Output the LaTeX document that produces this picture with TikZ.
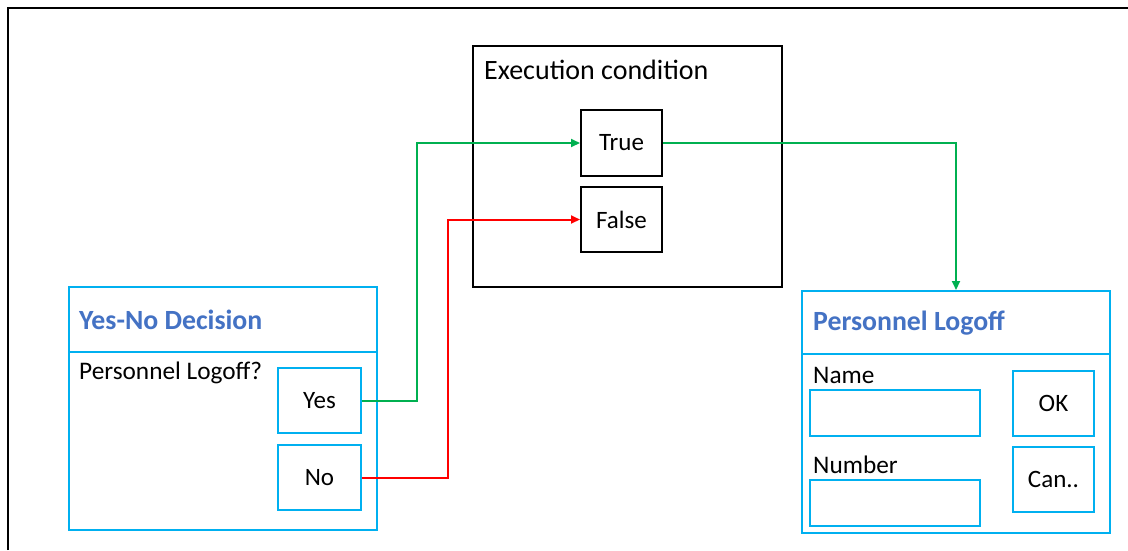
\documentclass[tikz,border=0pt]{standalone}
\usepackage{fontspec}
\setmainfont{Carlito}
\usetikzlibrary{arrows.meta}
\definecolor{panelcyan}{HTML}{00B0F0}
\definecolor{titleblue}{HTML}{4472C4}
\definecolor{okgreen}{HTML}{00B050}
\definecolor{nored}{HTML}{FF0000}
\tikzset{
  blackbox/.style={draw=black, line width=2pt, inner sep=0pt, fill=white},
  cyanbox/.style={draw=panelcyan, line width=2pt, inner sep=0pt, fill=white},
  label/.style={anchor=west, inner sep=0pt, font=\fontsize{25.3}{30}\selectfont},
  biglabel/.style={anchor=west, inner sep=0pt, font=\fontsize{28}{32}\selectfont},
  title/.style={anchor=west, inner sep=0pt, text=titleblue, font=\fontsize{27.8}{32}\selectfont\bfseries},
  boxtext/.style={font=\fontsize{25}{30}\selectfont},
  link/.style={line width=2pt, -{Triangle[length=9pt,width=8pt]}},
}
\begin{document}
\begin{tikzpicture}[x=1pt,y=-1pt]
\useasboundingbox (0,0) rectangle (1128,550);
% outer frame (top and left edges)
\draw[line width=2pt] (8,550) -- (8,8) -- (1128,8);

% execution condition block
\node[blackbox, minimum width=309pt, minimum height=241pt] (exec) at (627.5,166.5) {};
\node[biglabel] (exectitle) at (484,70) {Execution condition};
\node[blackbox, boxtext, minimum width=81pt, minimum height=66pt] (true) at (621.5,143) {True};
\node[blackbox, boxtext, minimum width=81pt, minimum height=65pt] (false) at (621.5,219.5) {False};

% yes-no decision panel
\node[cyanbox, minimum width=308pt, minimum height=243pt] (yn) at (223,408.5) {};
\coordinate (ynL) at (69,352);
\coordinate (ynR) at (377,352);
\draw[panelcyan, line width=2pt] (ynL) -- (ynR);
\node[title] (yntitle) at (79,320) {Yes-No Decision};
\node[label] (ynq) at (79,373) {Personnel Logoff?};
\node[cyanbox, boxtext, minimum width=83pt, minimum height=65pt] (yes) at (319.5,400.5) {Yes};
\node[cyanbox, boxtext, minimum width=83pt, minimum height=65pt] (no) at (319.5,477.5) {No};

% personnel logoff panel
\node[cyanbox, minimum width=308pt, minimum height=242pt] (pl) at (956,412) {};
\coordinate (plL) at (802,354);
\coordinate (plR) at (1110,354);
\draw[panelcyan, line width=2pt] (plL) -- (plR);
\node[title] (pltitle) at (813,323) {Personnel Logoff};
\node[label] (namelbl) at (813,375) {Name};
\node[cyanbox, minimum width=170pt, minimum height=46pt] (namefield) at (895,413) {};
\node[label] (numlbl) at (813,465) {Number};
\node[cyanbox, minimum width=170pt, minimum height=46pt] (numfield) at (895,503) {};
\node[cyanbox, boxtext, minimum width=81pt, minimum height=65pt] (ok) at (1053.5,403.5) {OK};
\node[cyanbox, boxtext, minimum width=81pt, minimum height=65pt] (cancel) at (1053.5,479.5) {Can..};

% connectors
\draw[link, okgreen] (yes.east) -- ++(55,0) |- (true.west);
\draw[link, nored] (no.east) -- ++(86,0) |- (false.west);
\draw[link, okgreen] (true.east) -| (pl.north);
\end{tikzpicture}
\end{document}
